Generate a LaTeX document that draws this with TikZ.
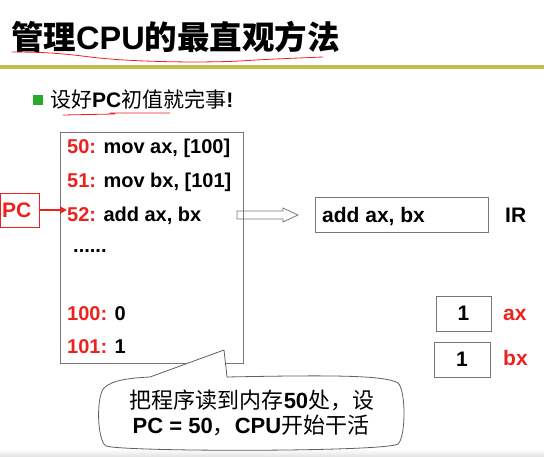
\documentclass[tikz,border=0pt]{standalone}
\usepackage{fontspec}
\setmainfont{Liberation Sans}
\newfontfamily\cjk{Noto Sans CJK SC}
\newcommand\zh[1]{{\cjk\mdseries #1}}
\newcommand\zhb[1]{{\cjk\bfseries #1}}
\usetikzlibrary{arrows.meta,calc}
\definecolor{pptred}{RGB}{235,35,30}
\definecolor{lineolive}{RGB}{196,186,78}
\definecolor{bulgreen}{RGB}{40,170,40}
\definecolor{boxgray}{RGB}{120,120,120}
\begin{document}
\begin{tikzpicture}[x=1pt,y=-1pt,
  lbl/.style={inner sep=0pt, anchor=base west, font=\bfseries\fontsize{20}{24}\selectfont},
  biglbl/.style={inner sep=0pt, anchor=base west, font=\bfseries\fontsize{21}{25}\selectfont},
  regbox/.style={draw=boxgray, line width=0.9pt, inner sep=0pt},
  redline/.style={pptred, line width=0.8pt, line cap=round}
]
\useasboundingbox (0,0) rectangle (544,457);
\shade[top color=white, bottom color=black!12] (0,449) rectangle (544,457);

% title
\node[inner sep=0pt, anchor=base west, font=\bfseries\fontsize{32.5}{38}\selectfont] (title) at (11,50)
  {\zhb{管理}CPU\zhb{的最直观方法}};
\draw[redline] (12,52) .. controls (40,52) and (60,53) .. (90,57)
  .. controls (130,62) and (200,63) .. (240,61) .. controls (270,59) and (300,58) .. (323,57);
\fill[lineolive] (0,65) rectangle (544,69);

% bullet
\fill[bulgreen] (33,95) rectangle (43,105);
\node[biglbl] (bullet) at (50,108) {\zh{设好}PC\zh{初值就完事}!};
\draw[redline] (63,115) -- (115,114) (110,113) -- (170,113);

% memory
\node[regbox, minimum width=183pt, minimum height=231pt] (mem) at (151.5,247.5) {};
\node[lbl] (r50) at (67,154) {\textcolor{pptred}{50:} mov ax, [100]};
\node[lbl] (r51) at (67,188) {\textcolor{pptred}{51:} mov bx, [101]};
\node[lbl] (r52) at (67,222) {\textcolor{pptred}{52:} add ax, bx};
\node[lbl] (dots) at (73,253) {......};
\node[lbl] (r100) at (67,320) {\textcolor{pptred}{100:} 0};
\node[lbl] (r101) at (67,354) {\textcolor{pptred}{101:} 1};

% PC
\node[draw=pptred, line width=0.9pt, minimum width=38.5pt, minimum height=34pt, inner sep=0pt] (pc) at (19.75,210) {};
\node[biglbl, text=pptred] (pctext) at (2,218) {PC};
\draw[pptred, line width=1.3pt, -{Triangle[length=7pt,width=7pt]}] (pc.east) -- (pc.east -| r52.west);

% hollow arrow
\coordinate (hs) at (237,215);
\coordinate (he) at (298,215);
\draw[boxgray, line width=0.8pt, line join=miter]
  ($(hs)+(0,-4)$) -- ($(he)+(-15,-4)$) -- ($(he)+(-15,-7)$) -- (he)
  -- ($(he)+(-15,7)$) -- ($(he)+(-15,4)$) -- ($(hs)+(0,4)$) -- cycle;

% IR
\node[regbox, minimum width=173pt, minimum height=35pt] (ir) at (401.5,214.5) {};
\node[biglbl] (irtext) at (322,222.5) {add ax, bx};
\node[biglbl] (irlbl) at (505,223) {IR};

% ax, bx
\node[regbox, minimum width=55pt, minimum height=35pt, font=\bfseries\fontsize{21}{25}\selectfont] (ax) at (463.5,313.5) {1};
\node[biglbl, text=pptred] (axlbl) at (503,320.5) {ax};
\node[regbox, minimum width=56pt, minimum height=35pt, font=\bfseries\fontsize{21}{25}\selectfont] (bx) at (462,359.5) {1};
\node[biglbl, text=pptred] (bxlbl) at (503,366) {bx};

% callout
\coordinate (tip) at (224,350);
\draw[boxgray!80!black, line width=0.8pt, fill=white, line join=round]
  (150,377) -- (tip) -- (227,377)
  .. controls (330,375) and (385,375) .. (398,383)
  .. controls (406,390) and (406,437) .. (398,444)
  .. controls (385,452) and (125,452) .. (106,446)
  .. controls (97,441) and (96,396) .. (104,388)
  .. controls (112,380) and (130,378) .. (150,377) -- cycle;
\node[inner sep=0pt, anchor=base, font=\bfseries\fontsize{22}{26}\selectfont] (c1) at (252,408)
  {\zh{把程序读到内存}50\zh{处，设}};
\node[inner sep=0pt, anchor=base, font=\bfseries\fontsize{22}{26}\selectfont] (c2) at (251,433)
  {PC = 50\zh{，}CPU\zh{开始干活}};
\end{tikzpicture}
\end{document}
